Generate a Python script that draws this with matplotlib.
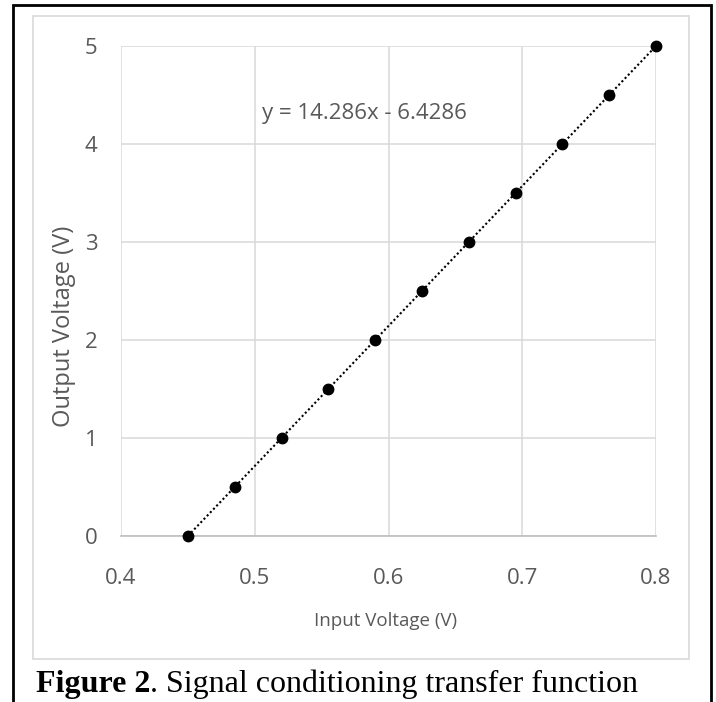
import matplotlib
matplotlib.use("Agg")
import matplotlib.pyplot as plt
import numpy as np
from matplotlib.patches import Rectangle

input_v = [0.45, 0.485, 0.52, 0.555, 0.59, 0.625, 0.66, 0.695, 0.73, 0.765, 0.80]
output_v = [0.0, 0.5, 1.0, 1.5, 2.0, 2.5, 3.0, 3.5, 4.0, 4.5, 5.0]
x_ticks = [0.4, 0.5, 0.6, 0.7, 0.8]
y_ticks = [0, 1, 2, 3, 4, 5]
equation = "y = 14.286x - 6.4286"
x_label = "Input Voltage (V)"
y_label = "Output Voltage (V)"

sans = ['Open Sans', 'DejaVu Sans']
serif = ['Liberation Serif', 'DejaVu Serif']
txt = '#595959'
grid_c = '#d9d9d9'

fig = plt.figure(figsize=(7.16, 7.02), dpi=100)
W, H = 716, 702

# outer black frame
fig.patches.append(Rectangle((13 / W, -0.01), (711 - 13) / W, (702 - 5) / H + 0.01,
                             transform=fig.transFigure, fill=False,
                             edgecolor='black', linewidth=2.0))
# inner chart area frame
fig.patches.append(Rectangle((33 / W, 1 - 659 / H), (689 - 33) / W, (659 - 16) / H,
                             transform=fig.transFigure, fill=False,
                             edgecolor=grid_c, linewidth=1.2))

ax = fig.add_axes([121 / W, 1 - 536 / H, (656 - 121) / W, (536 - 46) / H])
ax.set_xlim(0.4, 0.8)
ax.set_ylim(0, 5)
ax.set_xticks(x_ticks)
ax.set_yticks(y_ticks)
ax.set_xticklabels([f"{v:.1f}" for v in x_ticks])
ax.set_yticklabels([str(v) for v in y_ticks])
for s in ['left', 'right', 'top']:
    ax.spines[s].set_visible(False)
ax.spines['bottom'].set_color('#bfbfbf')
ax.spines['bottom'].set_linewidth(1.2)
ax.grid(True, color=grid_c, linewidth=1.1)
ax.set_axisbelow(True)
ax.tick_params(length=0, labelcolor=txt, labelsize=16)
ax.tick_params(axis='x', pad=23)
ax.tick_params(axis='y', pad=17)
for lab in ax.get_xticklabels() + ax.get_yticklabels():
    lab.set_family(sans)

# trendline
coef = np.polyfit(input_v, output_v, 1)
xt = np.array([min(input_v), max(input_v)])
ax.plot(xt, np.polyval(coef, xt), linestyle=(0, (1, 1.2)), color='black', linewidth=1.5, zorder=3)
ax.plot(input_v, output_v, 'o', color='black', markersize=7.5, zorder=4, clip_on=False)

ax.text(0.5817, 4.31, equation, fontsize=16, color=txt, family=sans, ha='center', va='center')

fig.text(386 / W, 1 - 621 / H, x_label, fontsize=13.5, color=txt, family=sans, ha='center', va='center')
fig.text(64 / W, 1 - 326 / H, y_label, fontsize=17, color=txt, family=sans, ha='center', va='center', rotation=90)

base_y = 1 - 692 / H
t1 = fig.text(36 / W, base_y, "Figure 2", fontsize=23, family=serif, weight='bold', ha='left', va='baseline')
fig.canvas.draw()
bb = t1.get_window_extent()
fig.text(bb.x1 / W, base_y, ". Signal conditioning transfer function", fontsize=23, family=serif, ha='left', va='baseline')

fig.savefig("out.png", dpi=100)
